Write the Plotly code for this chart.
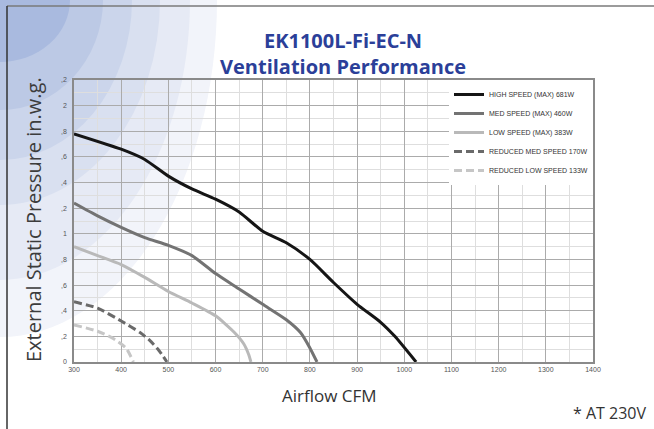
import plotly.graph_objects as go

# ---------------- data ----------------
high_x = [300, 400, 450, 500, 550, 600, 650, 700, 750, 800, 850, 900, 950, 980, 1025]
high_y = [1.78, 1.66, 1.58, 1.45, 1.35, 1.27, 1.17, 1.02, 0.93, 0.80, 0.62, 0.45, 0.31, 0.20, 0.0]

med_x = [300, 350, 400, 450, 500, 550, 600, 650, 700, 750, 780, 800, 815]
med_y = [1.24, 1.14, 1.05, 0.97, 0.91, 0.83, 0.69, 0.57, 0.45, 0.33, 0.23, 0.11, 0.0]

low_x = [300, 350, 400, 450, 500, 550, 600, 640, 660, 670, 675]
low_y = [0.90, 0.83, 0.76, 0.66, 0.55, 0.46, 0.36, 0.23, 0.14, 0.06, 0.0]

rmed_x = [300, 350, 400, 440, 460, 480, 497]
rmed_y = [0.47, 0.42, 0.32, 0.23, 0.17, 0.09, 0.0]

rlow_x = [300, 350, 380, 410, 426]
rlow_y = [0.29, 0.24, 0.19, 0.11, 0.0]

series_names = [
    "HIGH SPEED (MAX) 681W",
    "MED SPEED (MAX) 460W",
    "LOW SPEED (MAX) 383W",
    "REDUCED MED SPEED 170W",
    "REDUCED LOW SPEED 133W",
]

x_tickvals = [300, 400, 500, 600, 700, 800, 900, 1000, 1100, 1200, 1300, 1400]
y_tickvals = [0, 0.2, 0.4, 0.6, 0.8, 1.0, 1.2, 1.4, 1.6, 1.8, 2.0, 2.2]
y_ticktext = ["0", ",2", ",4", ",6", ",8", "1", ",2", ",4", ",6", ",8", "2", ",2"]

# ---------------- layout helpers ----------------
W, H = 654, 429
L, R, T, B = 74, 61, 80, 67
PW, PH = W - L - R, H - T - B


def px(x):
    return (x - L) / PW


def py(y):
    return (H - B - y) / PH


fig = go.Figure()

styles = [
    dict(color="#151515", width=3),
    dict(color="#737373", width=3),
    dict(color="#b9b9b9", width=3),
    dict(color="#6a6a6a", width=3, dash="8px,4px"),
    dict(color="#c6c6c6", width=3, dash="8px,4px"),
]
data = [(high_x, high_y), (med_x, med_y), (low_x, low_y), (rmed_x, rmed_y), (rlow_x, rlow_y)]
for (xs, ys), name, st in zip(data, series_names, styles):
    fig.add_trace(go.Scatter(x=xs, y=ys, mode="lines", name=name,
                             line=dict(shape="spline", smoothing=0.6, **st)))

# background decorative arcs (ellipses around the top-left corner)
shapes = []
arc_axes = [(217, 337), (190, 280), (160, 205), (132, 160), (103, 110), (70, 62)]
arc_colors = ["#f2f4fa", "#e6eaf5", "#d9e0f0", "#cbd5eb", "#bcc9e5", "#a9badf"]
for (a, b), c in zip(arc_axes, arc_colors):
    shapes.append(dict(type="circle", xref="paper", yref="paper",
                       x0=px(-a), x1=px(a), y0=py(b), y1=py(-b),
                       fillcolor=c, line=dict(width=0), layer="below"))
# card border
shapes.append(dict(type="line", xref="paper", yref="paper",
                   x0=px(7), x1=px(660), y0=py(6), y1=py(6),
                   line=dict(color="#7a7a7a", width=1.5), layer="below"))
shapes.append(dict(type="line", xref="paper", yref="paper",
                   x0=px(7), x1=px(7), y0=py(6), y1=py(435),
                   line=dict(color="#333333", width=1.5), layer="below"))

title_color = "#2b3f99"
annotations = [
    dict(text="<b>EK1100L-Fi-EC-N<br>Ventilation Performance</b>", x=px(343), y=py(53),
         xref="paper", yref="paper", showarrow=False, xanchor="center", yanchor="middle",
         align="center", font=dict(family="Open Sans", size=20, color=title_color)),
    dict(text="External Static Pressure in.w.g.", x=px(33), y=py(220), xref="paper", yref="paper",
         showarrow=False, xanchor="center", yanchor="middle", textangle=-90,
         font=dict(family="Open Sans", size=20, color="#3c3c3c")),
    dict(text="Airflow CFM", x=px(329), y=py(395), xref="paper", yref="paper",
         showarrow=False, xanchor="center", yanchor="middle",
         font=dict(family="Open Sans", size=17, color="#333333")),
    dict(text="* AT 230V", x=px(610), y=py(413), xref="paper", yref="paper",
         showarrow=False, xanchor="center", yanchor="middle",
         font=dict(family="Open Sans", size=16, color="#333333")),
]

fig.update_layout(
    width=W, height=H,
    margin=dict(l=L, r=R, t=T, b=B, pad=0),
    paper_bgcolor="white", plot_bgcolor="white",
    shapes=shapes, annotations=annotations,
    showlegend=True,
    legend=dict(x=1, y=1, xanchor="right", yanchor="top", bgcolor="white",
                borderwidth=0, itemwidth=30,
                font=dict(family="Liberation Sans", size=7, color="#333333")),
    xaxis=dict(range=[300, 1400], tickvals=x_tickvals, showgrid=True,
               gridcolor="#ababab", gridwidth=1,
               minor=dict(dtick=50, showgrid=True, gridcolor="#dedede", gridwidth=1),
               showline=True, linecolor="#8a8a8a", linewidth=1.5, mirror=True,
               ticks="", tickfont=dict(family="Liberation Sans", size=7, color="#555555"),
               zeroline=False, fixedrange=True),
    yaxis=dict(range=[0, 2.2], tickvals=y_tickvals, ticktext=y_ticktext, showgrid=True,
               gridcolor="#ababab", gridwidth=1,
               minor=dict(dtick=0.1, showgrid=True, gridcolor="#dedede", gridwidth=1),
               showline=True, linecolor="#8a8a8a", linewidth=1.5, mirror=True,
               ticks="", ticklabelstandoff=4,
               tickfont=dict(family="Liberation Sans", size=7, color="#555555"),
               zeroline=False, fixedrange=True),
)

fig.write_html("out.html", config={"displayModeBar": False},
               post_script="document.body.style.margin='0px';document.body.style.padding='0px';")
